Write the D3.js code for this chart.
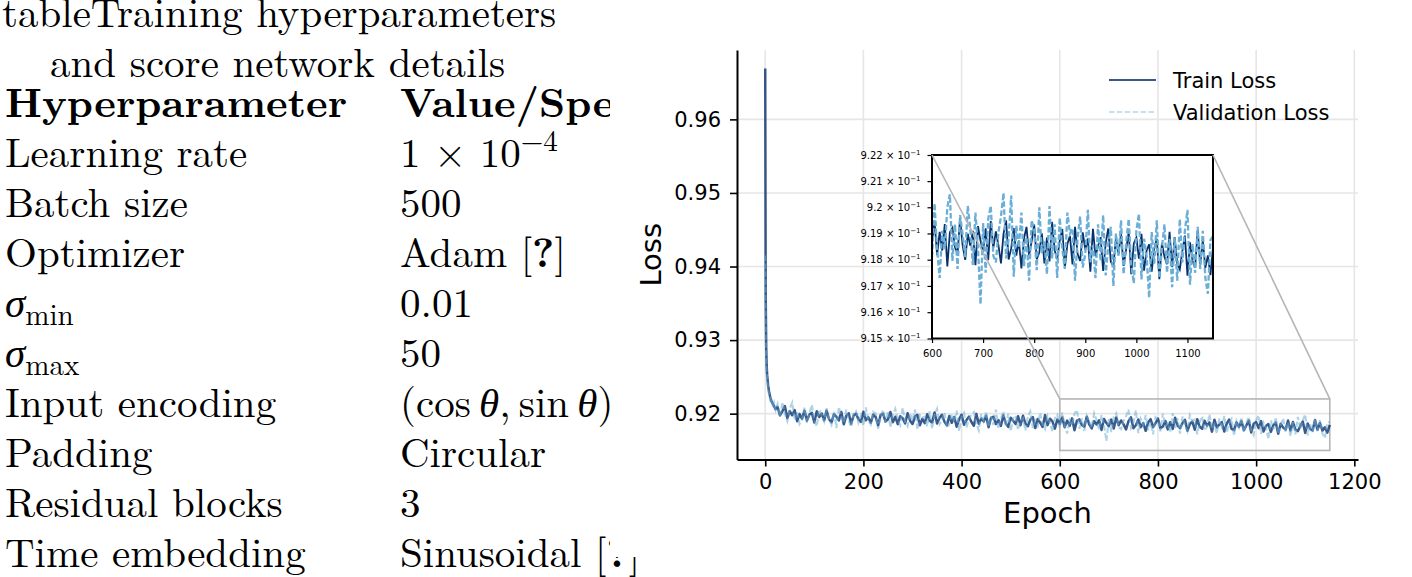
<!DOCTYPE html>
<html>
<head>
<meta charset="utf-8">
<script src="https://cdn.jsdelivr.net/npm/d3@7"></script>
<style>
  html, body { margin: 0; padding: 0; background: #fff; }
  svg { display: block; }
  text { white-space: pre; }
</style>
</head>
<body>
<svg id="fig" width="1412" height="577"></svg>
<script>
// ---------- table text ----------
const captionLines = ['tableTraining hyperparameters', 'and score network details'];
const tableHeader = ['Hyperparameter', 'Value/Specification'];
const paramNames = ['Learning rate', 'Batch size', 'Optimizer', '*σ*_{min}', '*σ*_{max}',
  'Input encoding', 'Padding', 'Residual blocks', 'Time embedding'];
const paramValues = ['1 × 10^{−4}', '500', 'Adam [**?**]', '0.01', '50',
  '(cos\u2009*θ*,\u2009sin\u2009*θ*)', 'Circular', '3', 'Sinusoidal [**?**]'];

// ---------- loss curves ----------
const seriesNames = ['Train Loss', 'Validation Loss'];
const earlyEpochs = [0, 1, 2, 3, 4, 6, 8, 10, 12, 15, 18, 21];
const laterEpochs = d3.range(25, 1151, 5);
const epochs = earlyEpochs.concat(laterEpochs);

const trainLoss = [
  0.96690, 0.93600, 0.92900, 0.92650, 0.92520, 0.92380, 0.92290, 0.92230, 0.92180, 0.92140, 0.92100, 0.92060,
  0.92092, 0.91977, 0.92035, 0.92103, 0.91939, 0.92035, 0.91978, 0.92049, 0.91897, 0.91996,
  0.91930, 0.92042, 0.91905, 0.91989, 0.92010, 0.91881, 0.92034, 0.91953, 0.92003, 0.91908,
  0.92041, 0.91924, 0.91882, 0.91993, 0.91958, 0.91909, 0.92023, 0.91855, 0.91969, 0.92006,
  0.91863, 0.91974, 0.92001, 0.91922, 0.91888, 0.92025, 0.91910, 0.91952, 0.91876, 0.91987,
  0.91955, 0.91841, 0.91982, 0.92000, 0.91893, 0.91924, 0.92023, 0.91885, 0.91958, 0.91857,
  0.91965, 0.91939, 0.91867, 0.92006, 0.91905, 0.91859, 0.91961, 0.91984, 0.91842, 0.91930,
  0.91871, 0.91992, 0.91905, 0.91882, 0.92017, 0.91865, 0.91941, 0.91984, 0.91891, 0.91840,
  0.91968, 0.91877, 0.91954, 0.91823, 0.91926, 0.91986, 0.91849, 0.91913, 0.91959, 0.91886,
  0.91835, 0.91997, 0.91863, 0.91932, 0.91894, 0.91970, 0.91815, 0.91944, 0.91958, 0.91859,
  0.91913, 0.91833, 0.91978, 0.91868, 0.91820, 0.91945, 0.91904, 0.91859, 0.91966, 0.91842,
  0.91972, 0.91866, 0.91829, 0.91918, 0.91953, 0.91804, 0.91927, 0.91877, 0.91820, 0.91980,
  0.91844, 0.91932, 0.91895, 0.91796, 0.91921, 0.91861, 0.91949, 0.91817, 0.91906, 0.91835,
  0.91936, 0.91774, 0.91905, 0.91922, 0.91847, 0.91823, 0.91959, 0.91854, 0.91799, 0.91899,
  0.91853, 0.91910, 0.91779, 0.91928, 0.91872, 0.91831, 0.91920, 0.91798, 0.91947, 0.91844,
  0.91908, 0.91855, 0.91786, 0.91898, 0.91950, 0.91801, 0.91843, 0.91921, 0.91816, 0.91873,
  0.91767, 0.91881, 0.91925, 0.91816, 0.91870, 0.91934, 0.91802, 0.91827, 0.91901, 0.91786,
  0.91884, 0.91793, 0.91944, 0.91837, 0.91802, 0.91872, 0.91917, 0.91768, 0.91860, 0.91891,
  0.91782, 0.91925, 0.91821, 0.91795, 0.91904, 0.91838, 0.91881, 0.91754, 0.91918, 0.91813,
  0.91852, 0.91886, 0.91757, 0.91863, 0.91919, 0.91792, 0.91775, 0.91882, 0.91820, 0.91899,
  0.91776, 0.91839, 0.91906, 0.91745, 0.91862, 0.91885, 0.91804, 0.91899, 0.91758, 0.91834,
  0.91859, 0.91754, 0.91843, 0.91880, 0.91726, 0.91863, 0.91811, 0.91783, 0.91906, 0.91771,
  0.91886, 0.91785, 0.91763, 0.91833, 0.91892, 0.91739, 0.91866, 0.91795, 0.91770, 0.91913,
  0.91782, 0.91873, 0.91769, 0.91816, 0.91741, 0.91847
];

const valLoss = [
  0.94150, 0.93000, 0.92700, 0.92560, 0.92450, 0.92330, 0.92250, 0.92190, 0.92230, 0.92090, 0.92150, 0.92050,
  0.92130, 0.91958, 0.92155, 0.92000, 0.91900, 0.92070, 0.92150, 0.91912, 0.92020, 0.91860,
  0.91920, 0.92080, 0.91875, 0.92010, 0.92120, 0.91910, 0.91830, 0.92055, 0.91980, 0.91895,
  0.92075, 0.91925, 0.91850, 0.92025, 0.91805, 0.92090, 0.91960, 0.91875, 0.92055, 0.91910,
  0.91820, 0.92000, 0.92035, 0.91880, 0.91975, 0.91835, 0.92085, 0.91910, 0.91855, 0.92025,
  0.92000, 0.91795, 0.91955, 0.92050, 0.91880, 0.92035, 0.91815, 0.91980, 0.92065, 0.91920,
  0.91845, 0.92080, 0.91890, 0.91830, 0.92005, 0.91905, 0.92055, 0.91785, 0.91980, 0.91945,
  0.91960, 0.91830, 0.92030, 0.91795, 0.91985, 0.92065, 0.91855, 0.91910, 0.92015, 0.91810,
  0.91855, 0.91995, 0.91895, 0.92040, 0.91765, 0.91955, 0.92010, 0.91810, 0.91925, 0.91985,
  0.92020, 0.91865, 0.91775, 0.91995, 0.91900, 0.92030, 0.91820, 0.91965, 0.91845, 0.92055,
  0.91800, 0.91925, 0.92030, 0.91825, 0.92000, 0.91760, 0.91935, 0.91975, 0.91780, 0.91905,
  0.91940, 0.91775, 0.91960, 0.92030, 0.91805, 0.91905, 0.91835, 0.92010, 0.91860, 0.91795,
  0.91965, 0.91870, 0.91755, 0.91940, 0.91985, 0.91810, 0.92015, 0.91840, 0.91730, 0.91910,
  0.91840, 0.92000, 0.92050, 0.91795, 0.91935, 0.91765, 0.91970, 0.91895, 0.91810, 0.92005,
  0.91915, 0.91780, 0.91980, 0.91845, 0.91630, 0.91940, 0.91750, 0.91955, 0.92005, 0.91815,
  0.91790, 0.91905, 0.91965, 0.92055, 0.91805, 0.91880, 0.92045, 0.91735, 0.91930, 0.91845,
  0.91980, 0.91775, 0.91885, 0.91720, 0.91950, 0.91915, 0.91760, 0.92000, 0.91825, 0.91870,
  0.91745, 0.92005, 0.91805, 0.91935, 0.91730, 0.91960, 0.91840, 0.91765, 0.91980, 0.91900,
  0.91920, 0.91720, 0.91885, 0.91965, 0.91770, 0.91820, 0.91990, 0.91790, 0.91855, 0.91730,
  0.91935, 0.91795, 0.91970, 0.91740, 0.91860, 0.91925, 0.91700, 0.91900, 0.91815, 0.91950,
  0.91745, 0.91865, 0.91955, 0.91780, 0.91710, 0.91910, 0.91975, 0.91725, 0.91880, 0.91815,
  0.91655, 0.91905, 0.91785, 0.91950, 0.91730, 0.91845, 0.91935, 0.91750, 0.91880, 0.91695,
  0.91885, 0.91720, 0.91955, 0.91790, 0.91910, 0.91990, 0.91705, 0.91860, 0.91750, 0.91925,
  0.91765, 0.91910, 0.91730, 0.91670, 0.91875, 0.91890
];

const xTicks = [0, 200, 400, 600, 800, 1000, 1200];
const yTicks = [0.92, 0.93, 0.94, 0.95, 0.96];
const zoomEpochs = [600, 1150];
const zoomLoss = [0.915, 0.922];
const insetXTicks = [600, 700, 800, 900, 1000, 1100];
const insetYTicks = [0.915, 0.916, 0.917, 0.918, 0.919, 0.920, 0.921, 0.922];

const svg = d3.select('#fig');

// ---------- left: the LaTeX table ----------
const tbl = svg.append('g')
  .style('font-family', '"Latin Modern Roman","CMU Serif","Liberation Serif",serif')
  .style('font-size', '41px')
  .attr('fill', '#000');

// tiny markup: ^{sup}, _{sub}, **bold**, *italic*
function richText(sel, str) {
  const parts = str.match(/\^\{[^}]*\}|_\{[^}]*\}|\*\*[^*]+\*\*|\*[^*]+\*|[^^_*]+/g);
  let shift = 0;
  parts.forEach(function (p) {
    let t = p, dy = 0, small = false, bold = false, ital = false;
    if (p.startsWith('^{')) { t = p.slice(2, -1); dy = -16; small = true; }
    else if (p.startsWith('_{')) { t = p.slice(2, -1); dy = 8; small = true; }
    else if (p.startsWith('**')) { t = p.slice(2, -2); bold = true; }
    else if (p.startsWith('*')) { t = p.slice(1, -1); ital = true; }
    const ts = sel.append('tspan').text(t);
    if (dy - shift) ts.attr('dy', dy - shift);
    shift = dy;
    if (small) ts.style('font-size', '29px');
    if (bold) ts.style('font-weight', 'bold');
    if (ital) ts.style('font-style', 'italic').style('font-family', '"Liberation Serif",serif');
  });
}

tbl.append('text').attr('x', 2).attr('y', 27).text(captionLines[0]);
tbl.append('text').attr('x', 50).attr('y', 77).text(captionLines[1]);

const colX = [5, 400];
tableHeader.forEach(function (h, i) {
  tbl.append('text').attr('x', colX[i]).attr('y', 117)
    .style('font-weight', 'bold').text(h);
});

paramNames.forEach(function (name, i) {
  const yy = 167 + i * 50;
  richText(tbl.append('text').attr('x', colX[0]).attr('y', yy), name);
  richText(tbl.append('text').attr('x', colX[1]).attr('y', yy), paramValues[i]);
});

// the figure image sits on top of the table's right edge
svg.append('rect').attr('x', 610).attr('y', 0).attr('width', 802).attr('height', 557).attr('fill', '#fff');

// ---------- right: loss chart ----------
const plot = { left: 737, right: 1358, top: 50, bottom: 459.5 };
const pts = epochs.map(function (e, i) { return { e: e, tr: trainLoss[i], va: valLoss[i] }; });

const xExt = d3.extent(epochs);
const xPad = (xExt[1] - xExt[0]) * 0.05;
const yExt = d3.extent(trainLoss.concat(valLoss));
const yPad = (yExt[1] - yExt[0]) * 0.05;

const x = d3.scaleLinear().domain([xExt[0] - xPad, xExt[1] + xPad]).range([plot.left, plot.right]);
const y = d3.scaleLinear().domain([yExt[0] - yPad, yExt[1] + yPad]).range([plot.bottom, plot.top]);

const chart = svg.append('g').style('font-family', '"DejaVu Sans", sans-serif');

// grid
chart.append('g').selectAll('line').data(xTicks).join('line')
  .attr('x1', d => x(d)).attr('x2', d => x(d))
  .attr('y1', plot.top).attr('y2', plot.bottom)
  .attr('stroke', '#e6e6e6').attr('stroke-width', 1.6);
chart.append('g').selectAll('line').data(yTicks).join('line')
  .attr('x1', plot.left).attr('x2', plot.right)
  .attr('y1', d => y(d)).attr('y2', d => y(d))
  .attr('stroke', '#e6e6e6').attr('stroke-width', 1.6);

// zoom box under the data
chart.append('rect')
  .attr('x', x(zoomEpochs[0])).attr('y', y(zoomLoss[1]))
  .attr('width', x(zoomEpochs[1]) - x(zoomEpochs[0]))
  .attr('height', y(zoomLoss[0]) - y(zoomLoss[1]))
  .attr('fill', 'none').attr('stroke', '#b5b5b5').attr('stroke-width', 1.6);

svg.append('clipPath').attr('id', 'plotClip').append('rect')
  .attr('x', plot.left).attr('y', plot.top)
  .attr('width', plot.right - plot.left).attr('height', plot.bottom - plot.top);

const lineTr = d3.line().x(d => x(d.e)).y(d => y(d.tr));
const lineVa = d3.line().x(d => x(d.e)).y(d => y(d.va));

const lines = chart.append('g').attr('clip-path', 'url(#plotClip)');
lines.append('path').datum(pts).attr('d', lineTr)
  .attr('fill', 'none').attr('stroke', '#08306b').attr('stroke-opacity', 0.8)
  .attr('stroke-width', 2.5).attr('stroke-linejoin', 'round');
lines.append('path').datum(pts).attr('d', lineVa)
  .attr('fill', 'none').attr('stroke', '#6baed6').attr('stroke-opacity', 0.55)
  .attr('stroke-width', 2.1).attr('stroke-dasharray', '5.5,2.4');

// axes
const xAxis = d3.axisBottom(x).tickValues(xTicks).tickSize(7).tickSizeOuter(0).tickPadding(8)
  .tickFormat(d3.format('d'));
const yAxis = d3.axisLeft(y).tickValues(yTicks).tickSize(7).tickSizeOuter(0).tickPadding(9)
  .tickFormat(d3.format('.2f'));

const gx = chart.append('g').attr('transform', 'translate(0,' + plot.bottom + ')').call(xAxis);
const gy = chart.append('g').attr('transform', 'translate(' + plot.left + ',0)').call(yAxis);
[gx, gy].forEach(function (g) {
  g.select('.domain').attr('stroke', '#000').attr('stroke-width', 2);
  g.selectAll('.tick line').attr('stroke', '#000').attr('stroke-width', 1.6);
  g.selectAll('.tick text').attr('fill', '#000').style('font-size', '21px')
    .style('font-family', '"DejaVu Sans", sans-serif');
});

chart.append('text').attr('transform', 'translate(661,' + ((plot.top + plot.bottom) / 2) + ') rotate(-90)')
  .attr('text-anchor', 'middle').style('font-size', '29px').text('Loss');
chart.append('text').attr('x', (plot.left + plot.right) / 2).attr('y', 523)
  .attr('text-anchor', 'middle').style('font-size', '29px').text('Epoch');

// legend
const legend = chart.append('g').attr('transform', 'translate(1109,80)');
const legendStyle = [
  { stroke: '#08306b', opacity: 0.8, width: 2, dash: null },
  { stroke: '#6baed6', opacity: 0.5, width: 1.6, dash: '5.5,2.4' }
];
seriesNames.forEach(function (name, i) {
  const g = legend.append('g').attr('transform', 'translate(0,' + i * 32 + ')');
  g.append('line').attr('x1', 0).attr('x2', 47)
    .attr('stroke', legendStyle[i].stroke).attr('stroke-opacity', legendStyle[i].opacity)
    .attr('stroke-width', legendStyle[i].width).attr('stroke-dasharray', legendStyle[i].dash);
  g.append('text').attr('x', 64).attr('y', 8).style('font-size', '21px').text(name);
});

// ---------- inset ----------
const inset = { left: 932, right: 1213, top: 155, bottom: 338.5 };
const xi = d3.scaleLinear().domain(zoomEpochs).range([inset.left, inset.right]);
const yi = d3.scaleLog().domain(zoomLoss).range([inset.bottom, inset.top]);

const ins = svg.append('g').style('font-family', '"DejaVu Sans", sans-serif');
ins.append('rect').attr('x', inset.left).attr('y', inset.top)
  .attr('width', inset.right - inset.left).attr('height', inset.bottom - inset.top).attr('fill', '#fff');

svg.append('clipPath').attr('id', 'insetClip').append('rect')
  .attr('x', inset.left).attr('y', inset.top)
  .attr('width', inset.right - inset.left).attr('height', inset.bottom - inset.top);

const zoomPts = pts.filter(d => d.e >= zoomEpochs[0] && d.e <= zoomEpochs[1]);
const insLines = ins.append('g').attr('clip-path', 'url(#insetClip)');
insLines.append('path').datum(zoomPts)
  .attr('d', d3.line().x(d => xi(d.e)).y(d => yi(d.tr)))
  .attr('fill', 'none').attr('stroke', '#08306b').attr('stroke-width', 1.8);
insLines.append('path').datum(zoomPts)
  .attr('d', d3.line().x(d => xi(d.e)).y(d => yi(d.va)))
  .attr('fill', 'none').attr('stroke', '#6baed6').attr('stroke-width', 2.3)
  .attr('stroke-dasharray', '5.5,2.4');

const gxi = ins.append('g').attr('transform', 'translate(0,' + inset.bottom + ')')
  .call(d3.axisBottom(xi).tickValues(insetXTicks).tickSize(4.5).tickSizeOuter(0).tickPadding(7)
    .tickFormat(d3.format('d')));
const gyi = ins.append('g').attr('transform', 'translate(' + inset.left + ',0)')
  .call(d3.axisLeft(yi).tickValues(insetYTicks).tickSize(4.5).tickSizeOuter(0).tickPadding(7).tickFormat(() => ''));
[gxi, gyi].forEach(function (g) {
  g.select('.domain').remove();
  g.selectAll('.tick line').attr('stroke', '#000').attr('stroke-width', 1.2);
  g.selectAll('.tick text').attr('fill', '#000').style('font-size', '10px')
    .style('font-family', '"DejaVu Sans", sans-serif');
});
gyi.selectAll('.tick text').each(function (d) {
  const t = d3.select(this);
  t.append('tspan').text(String(+(d * 10).toFixed(3)) + ' × 10');
  t.append('tspan').attr('dy', -4).style('font-size', '7px').text('−1');
});

ins.append('rect').attr('x', inset.left).attr('y', inset.top)
  .attr('width', inset.right - inset.left).attr('height', inset.bottom - inset.top)
  .attr('fill', 'none').attr('stroke', '#000').attr('stroke-width', 2);

// connector lines from inset to zoom box
const conn = [
  [inset.left, inset.top, x(zoomEpochs[0]), y(zoomLoss[1])],
  [inset.right, inset.top, x(zoomEpochs[1]), y(zoomLoss[1])]
];
svg.append('g').selectAll('line').data(conn).join('line')
  .attr('x1', d => d[0]).attr('y1', d => d[1]).attr('x2', d => d[2]).attr('y2', d => d[3])
  .attr('stroke', '#b5b5b5').attr('stroke-width', 1.6);
</script>
</body>
</html>
